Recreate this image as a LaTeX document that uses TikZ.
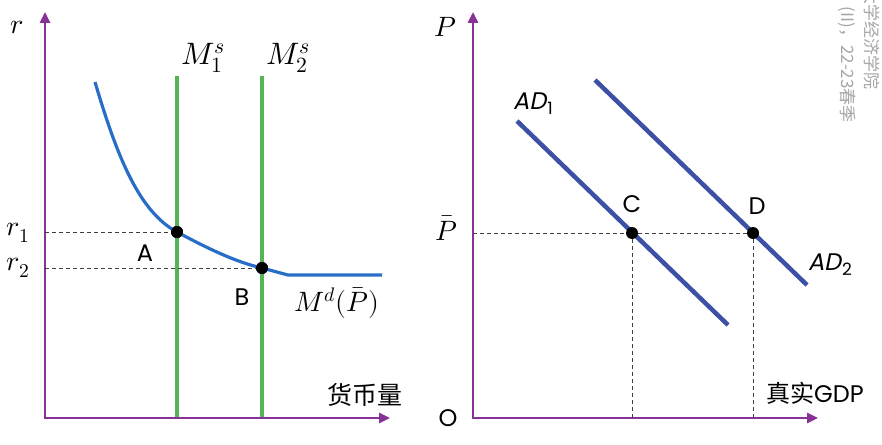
\documentclass[tikz,border=0pt]{standalone}
\usepackage{amsmath}
\usepackage{fontspec}
\usepackage{unicode-math}
\setmathfont{Latin Modern Math}
\newfontfamily\gothic{Poppins}
\newfontfamily\gothicit[FakeSlant=0.2]{Poppins}
\newfontfamily\cjk{Noto Sans CJK SC}
\usetikzlibrary{arrows.meta}
\definecolor{axispurple}{RGB}{135,50,150}
\definecolor{mdblue}{RGB}{40,110,200}
\definecolor{msgreen}{RGB}{85,180,85}
\definecolor{adblue}{RGB}{60,80,165}

\begin{document}
\begin{tikzpicture}[x=1pt, y=-1pt,
  axis/.style={draw=axispurple, line width=2.6pt, line join=miter,
    {Triangle[length=11pt,width=10pt]}-{Triangle[length=11pt,width=10pt]}},
  guide/.style={draw=black!75, line width=0.8pt, dash pattern=on 4pt off 3pt},
  dot/.style={circle, fill=black, inner sep=0pt, minimum size=12pt},
  mathlbl/.style={font=\fontsize{28}{28}\selectfont, inner sep=1pt},
  sanslbl/.style={font=\gothic\fontsize{24}{24}\selectfont, inner sep=1pt},
  cjklbl/.style={font=\cjk\fontsize{25}{25}\selectfont, inner sep=1pt},
  wmark/.style={font=\cjk\fontsize{17}{17}\selectfont, text=black!35, rotate=-90, anchor=east, inner sep=0pt}]
\useasboundingbox (0,0) rectangle (882,444);

% money market
\coordinate (O1) at (45,418);
\draw[axis] (45,12) |- (390,418);
\node[mathlbl] (rlbl) at (17,27) {$r$};
\node[cjklbl] (qlbl) at (365,395) {货币量};

\foreach \i/\x in {1/177,2/262} {
  \draw[msgreen, line width=3.2pt] (\x,76) coordinate (s\i top) -- (\x,417);
  \node[mathlbl, font=\fontsize{31}{31}\selectfont, anchor=south west, xshift=3pt, yshift=2pt] (ms\i) at (s\i top) {$M^s_\i$};
}

\node[dot] (A) at (177,232) {};
\node[dot] (B) at (262,268) {};
\draw[mdblue, line width=3.2pt] (95,82) .. controls (118,160) and (140,212) .. (A.center)
  .. controls (205,247) and (235,262) .. (B.center) -- (288,275) -- (382,275);
\draw[guide] (O1 |- A) -- (A);
\draw[guide] (O1 |- B) -- (B);
\node[dot] at (A) {};
\node[dot] at (B) {};

\node[mathlbl] (r1) at (18,233) {$r_1$};
\node[mathlbl] (r2) at (18,268) {$r_2$};
\node[sanslbl] (Alb) at (145,253) {A};
\node[sanslbl] (Blb) at (242,297) {B};
\node[mathlbl] (mdlbl) at (337,303) {$M^d(\bar{P})$};

% goods market
\coordinate (O2) at (473,418);
\draw[axis] (473,12) |- (818,418);
\node[mathlbl] (plbl) at (445,27) {$P$};
\node[mathlbl] (pbar) at (446,228) {$\bar{P}$};
\node[sanslbl] (olbl) at (448,418) {O};
\node[sanslbl] (gdp) at (815,393) {{\cjk 真实}GDP};

\draw[adblue, line width=4.5pt] (517,121) coordinate (ad1a) -- (728,325) coordinate (ad1b);
\draw[adblue, line width=4.5pt] (595,80) coordinate (ad2a) -- (807,285) coordinate (ad2b);

\node[dot] (C) at (632,233) {};
\node[dot] (D) at (753,233) {};
\draw[guide] (O2 |- C) -- (C) -- (D);
\draw[guide] (C) -- (C |- O2);
\draw[guide] (D) -- (D |- O2);

\node[sanslbl] (Clb) at (632,204) {C};
\node[sanslbl] (Dlb) at (757,206) {D};
\node[sanslbl] (ad1lbl) at (533,104) {\gothicit AD\kern1pt\raisebox{-5pt}{\gothic\fontsize{17}{17}\selectfont 1}};
\node[sanslbl] (ad2lbl) at (830,265) {\gothicit AD\kern1pt\raisebox{-5pt}{\gothic\fontsize{17}{17}\selectfont 2}};

% watermark
\node[wmark] (wm1) at (872,90) {大学经济学院};
\node[wmark] (wm2) at (847,123) {(II)，22-23春季};
\end{tikzpicture}
\end{document}
